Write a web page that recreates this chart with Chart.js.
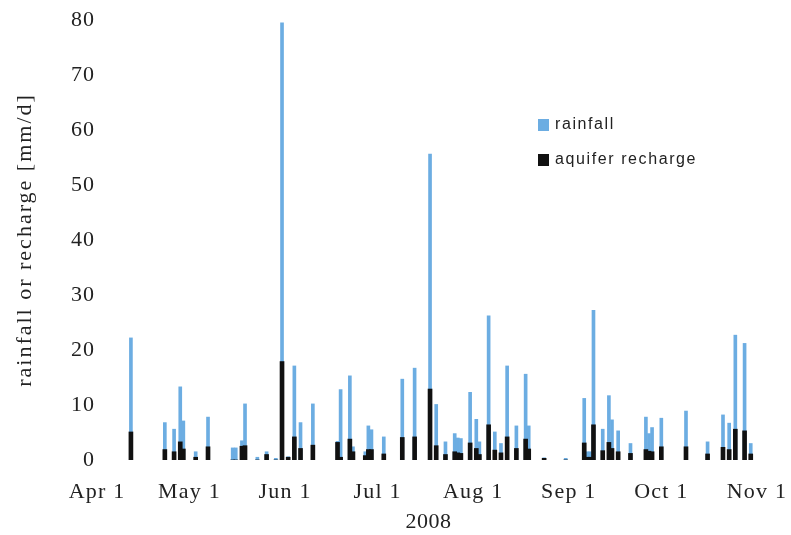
<!DOCTYPE html>
<html>
<head>
<meta charset="utf-8">
<script src="https://cdn.jsdelivr.net/npm/chart.js@4/dist/chart.umd.min.js"></script>
<style>
  html, body { margin: 0; padding: 0; background: #ffffff; }
  #wrap { position: relative; width: 791px; height: 535px; }
  #legend { position: absolute; left: 538px; top: 114px; font-family: "Liberation Sans", Arial, sans-serif;
            font-size: 16px; letter-spacing: 1.6px; color: #222; }
  .item { position: absolute; left: 0; white-space: nowrap; height: 20px; line-height: 20px; }
  .swatch { position: absolute; left: 0; top: 5px; width: 11px; height: 12px; }
  .item span.txt { position: absolute; left: 17px; top: 0; }
</style>
</head>
<body>
<div id="wrap">
  <canvas id="c" width="791" height="535"></canvas>
  <div id="legend"></div>
</div>
<script>
// Daily rainfall and aquifer recharge, 2008 season (mm/d)
const dates = [
  "2008-04-12","2008-04-23","2008-04-26","2008-04-28","2008-04-29","2008-05-03","2008-05-07",
  "2008-05-15","2008-05-16","2008-05-18","2008-05-19","2008-05-23","2008-05-26","2008-05-29",
  "2008-05-31","2008-06-02","2008-06-04","2008-06-06","2008-06-10","2008-06-18","2008-06-19",
  "2008-06-22","2008-06-23","2008-06-27","2008-06-28","2008-06-29","2008-07-03","2008-07-09",
  "2008-07-13","2008-07-18","2008-07-20","2008-07-23","2008-07-26","2008-07-27","2008-07-28",
  "2008-07-31","2008-08-02","2008-08-03","2008-08-06","2008-08-08","2008-08-10","2008-08-12",
  "2008-08-15","2008-08-18","2008-08-19","2008-08-24","2008-08-31","2008-09-06","2008-09-07",
  "2008-09-08","2008-09-09","2008-09-12","2008-09-14","2008-09-15","2008-09-17","2008-09-21",
  "2008-09-26","2008-09-27","2008-09-28","2008-10-01","2008-10-09","2008-10-16","2008-10-21",
  "2008-10-23","2008-10-25","2008-10-28","2008-10-30"
];
const rainfall = [
  22.2, 6.8, 5.6, 13.3, 7.1, 1.5, 7.8,
  2.2, 2.2, 3.5, 10.2, 0.5, 1.5, 0.3,
  79.5, 0.6, 17.1, 6.8, 10.2, 3.4, 12.8,
  15.3, 2.4, 1.5, 6.2, 5.5, 4.2, 14.7,
  16.7, 55.6, 10.1, 3.3, 4.8, 4.0, 3.9,
  12.3, 7.4, 3.3, 26.2, 5.1, 3.0, 17.1,
  6.2, 15.6, 6.2, 0.4, 0.3, 11.2, 1.5,
  1.5, 27.2, 5.6, 11.7, 7.3, 5.3, 3.0,
  7.8, 4.8, 5.9, 7.6, 8.9, 3.3, 8.2,
  6.7, 22.7, 21.2, 3.0
];
const recharge = [
  5.1, 1.9, 1.5, 3.3, 2.0, 0.5, 2.4,
  0, 0, 2.5, 2.6, 0, 1.0, 0,
  17.9, 0.5, 4.2, 2.1, 2.7, 3.2, 0.5,
  3.8, 1.5, 0.8, 1.9, 1.9, 1.1, 4.1,
  4.2, 12.9, 2.6, 1.0, 1.5, 1.3, 1.2,
  3.1, 2.1, 1.0, 6.4, 1.8, 1.3, 4.2,
  2.1, 3.8, 2.0, 0.3, 0, 3.1, 0.5,
  0.5, 6.4, 1.7, 3.2, 2.1, 1.5, 1.2,
  1.9, 1.6, 1.5, 2.4, 2.4, 1.1, 2.3,
  1.9, 5.6, 5.3, 1.1
];
const monthTicks = ["2008-04-01","2008-05-01","2008-06-01","2008-07-01","2008-08-01","2008-09-01","2008-10-01","2008-11-01"];
const monthLabels = ["Apr 1","May 1","Jun 1","Jul 1","Aug 1","Sep 1","Oct 1","Nov 1"];
const yearLabel = "2008";
const yTitle = "rainfall or recharge [mm/d]";
const seriesNames = ["rainfall", "aquifer recharge"];

const RAIN_COLOR = "#6cade2";
const RECH_COLOR = "#111111";

// day number counted from the first of April
const start = Date.UTC(2008, 3, 1);
function dayOf(iso) {
  const p = iso.split("-").map(Number);
  return Math.round((Date.UTC(p[0], p[1] - 1, p[2]) - start) / 864e5);
}
const tickDays = monthTicks.map(dayOf);

const serif = "'Liberation Serif', 'Times New Roman', serif";

// wraps a scale's text drawing so it uses wider letter spacing
function spaced(scale, method, px) {
  const key = "_sp_" + method;
  if (scale[key]) return;
  const orig = scale[method];
  scale[method] = function () {
    const ctx = this.ctx;
    ctx.save();
    ctx.letterSpacing = px + "px";
    orig.apply(this, arguments);
    ctx.restore();
  };
  scale[key] = true;
}

new Chart(document.getElementById("c"), {
  type: "bar",
  data: {
    datasets: [
      {
        label: seriesNames[1],
        data: dates.map((d, i) => ({ x: dayOf(d), y: recharge[i] })),
        backgroundColor: RECH_COLOR,
        barThickness: 4,
        grouped: false
      },
      {
        label: seriesNames[0],
        data: dates.map((d, i) => ({ x: dayOf(d), y: rainfall[i] })),
        backgroundColor: RAIN_COLOR,
        barThickness: 3,
        grouped: false
      }
    ]
  },
  options: {
    responsive: false,
    animation: false,
    devicePixelRatio: 1,
    layout: { padding: { left: 0, right: 31, top: 20, bottom: 0 } },
    plugins: { legend: { display: false }, tooltip: { enabled: false } },
    scales: {
      x: {
        type: "linear",
        min: 0,
        max: 215,
        offset: false,
        grid: { display: false, drawTicks: false },
        border: { display: false },
        afterBuildTicks: s => { s.ticks = tickDays.map(v => ({ value: v })); },
        afterFit: s => {
          s.height = 75;
          s.paddingLeft = 0;
          s.paddingRight = 0;
          spaced(s, "drawLabels", 1.2);
          spaced(s, "drawTitle", 0.5);
        },
        ticks: {
          autoSkip: false,
          maxRotation: 0,
          padding: 19,
          color: "#222",
          font: { family: serif, size: 22 },
          callback: v => monthLabels[tickDays.indexOf(v)]
        },
        title: {
          display: true,
          text: yearLabel,
          color: "#222",
          font: { family: serif, size: 22 },
          padding: { top: 0, bottom: 0 }
        }
      },
      y: {
        min: 0,
        max: 80,
        grid: { display: false, drawTicks: false },
        border: { display: false },
        afterFit: s => {
          s.width = 97;
          spaced(s, "drawLabels", 1);
          spaced(s, "drawTitle", 2);
        },
        ticks: {
          stepSize: 10,
          padding: 2,
          color: "#222",
          font: { family: serif, size: 22 }
        },
        title: {
          display: true,
          text: yTitle,
          color: "#222",
          font: { family: serif, size: 22 },
          padding: { top: 12, bottom: 0 }
        }
      }
    }
  }
});

// legend drawn beside the plot, rainfall first
const legend = document.getElementById("legend");
[[seriesNames[0], RAIN_COLOR, 0], [seriesNames[1], RECH_COLOR, 35]].forEach(([name, color, top]) => {
  const item = document.createElement("div");
  item.className = "item";
  item.style.top = top + "px";
  const sw = document.createElement("div");
  sw.className = "swatch";
  sw.style.background = color;
  const t = document.createElement("span");
  t.className = "txt";
  t.textContent = name;
  item.appendChild(sw);
  item.appendChild(t);
  legend.appendChild(item);
});
</script>
</body>
</html>
